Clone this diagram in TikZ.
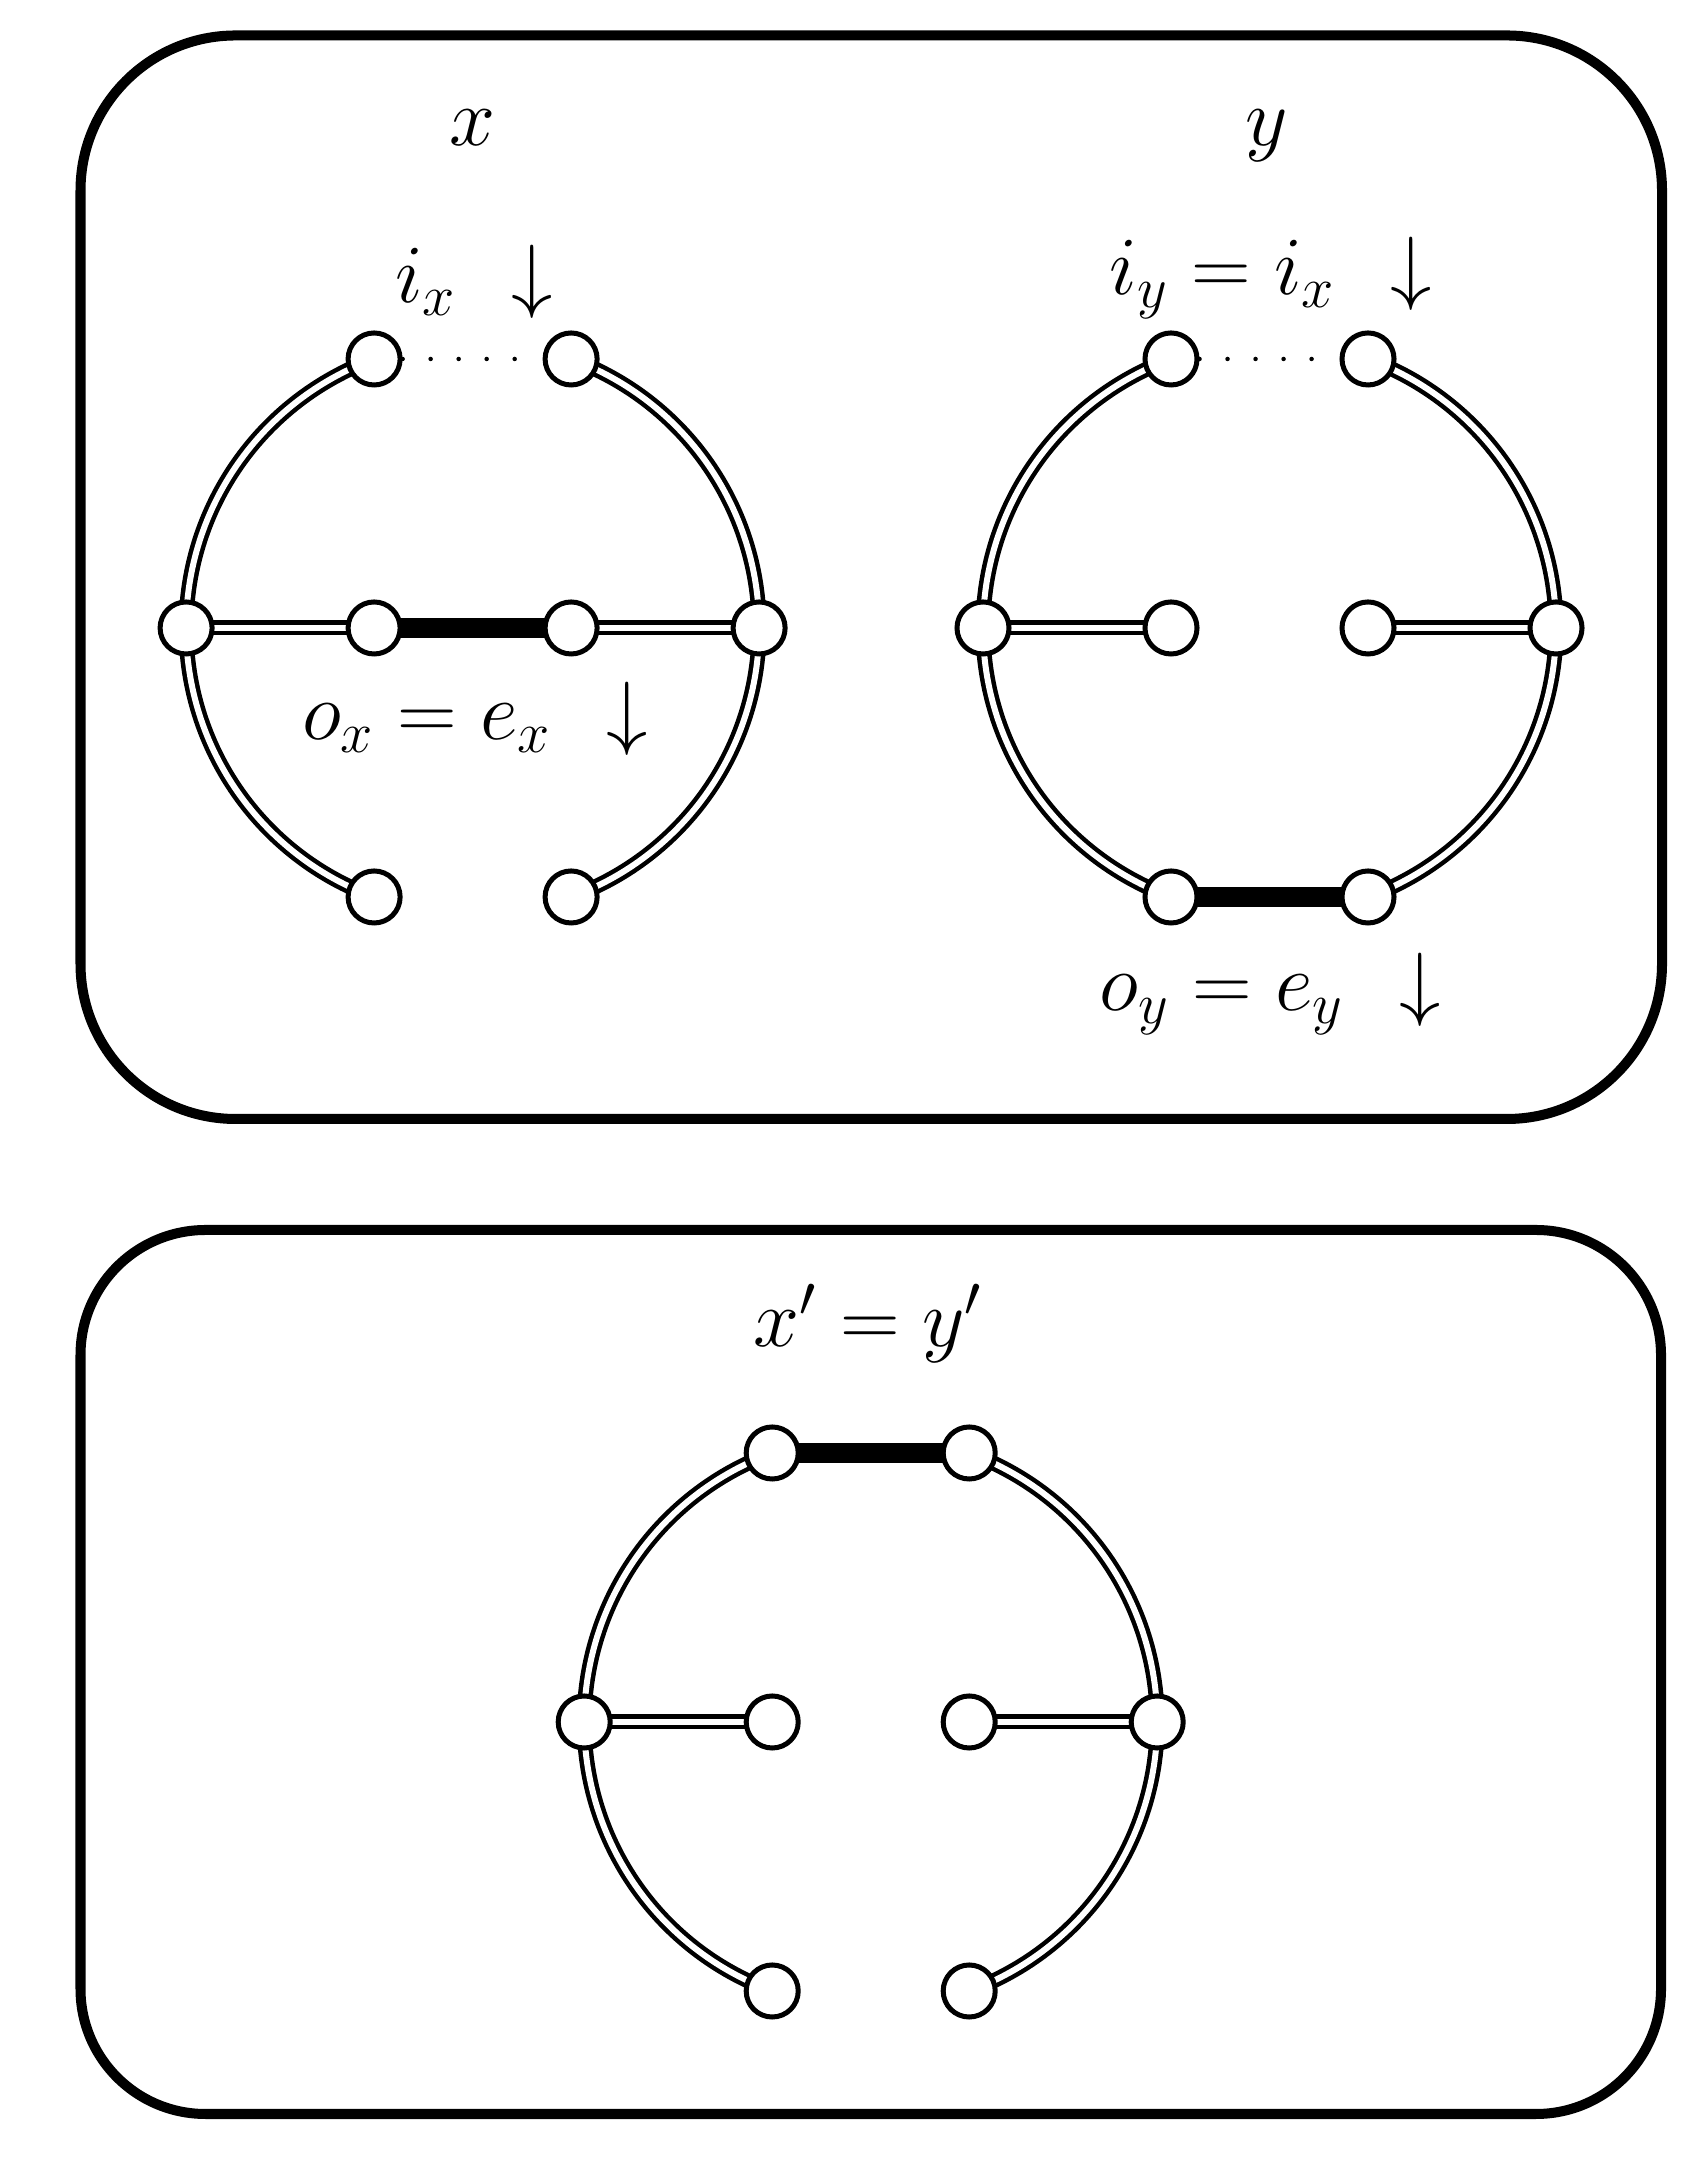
\RequirePackage{fix-cm}
\documentclass[tikz,border=0pt]{standalone}
\usetikzlibrary{backgrounds}
\begin{document}
\begin{tikzpicture}[x=0.01cm,y=0.01cm,
  vtx/.style={circle,draw,fill=white,line width=0.05cm,minimum size=0.52cm,inner sep=0pt},
  dbl/.style={double,double distance=0.06cm,line width=0.045cm},
  thk/.style={line width=0.2cm},
  dotline/.style={line width=0.045cm,line cap=round,dash pattern=on 0pt off 0.28cm},
  boxframe/.style={line width=0.1cm,rounded corners=1.55cm},
  boxframeb/.style={line width=0.1cm,rounded corners=1.25cm},
  lbl/.style={font=\fontsize{23.5}{28}\selectfont,anchor=base,inner sep=0pt},
  arcL/.style={dbl,bend right=35,looseness=0.936},
  arcR/.style={dbl,bend left=35,looseness=0.936}]
\useasboundingbox (0,0) rectangle (1700,2164);

% frames
\draw[boxframe] (80.5,1045) rectangle (1662,2128.5);
\draw[boxframeb] (80.5,50) rectangle (1661,934);

% graph x
\begin{scope}[shift={(472.6,1536)}]
  \node[vtx] (aTL) at (-98.5,269) {};
  \node[vtx] (aTR) at (98.5,269) {};
  \node[vtx] (aL) at (-286.5,0) {};
  \node[vtx] (aIL) at (-98.5,0) {};
  \node[vtx] (aIR) at (98.5,0) {};
  \node[vtx] (aR) at (286.5,0) {};
  \node[vtx] (aBL) at (-98.5,-269) {};
  \node[vtx] (aBR) at (98.5,-269) {};
\end{scope}
% graph y
\begin{scope}[shift={(1269.5,1536)}]
  \node[vtx] (bTL) at (-98.5,269) {};
  \node[vtx] (bTR) at (98.5,269) {};
  \node[vtx] (bL) at (-286.5,0) {};
  \node[vtx] (bIL) at (-98.5,0) {};
  \node[vtx] (bIR) at (98.5,0) {};
  \node[vtx] (bR) at (286.5,0) {};
  \node[vtx] (bBL) at (-98.5,-269) {};
  \node[vtx] (bBR) at (98.5,-269) {};
\end{scope}
% graph x'=y'
\begin{scope}[shift={(870.7,442)}]
  \node[vtx] (cTL) at (-98.5,269) {};
  \node[vtx] (cTR) at (98.5,269) {};
  \node[vtx] (cL) at (-286.5,0) {};
  \node[vtx] (cIL) at (-98.5,0) {};
  \node[vtx] (cIR) at (98.5,0) {};
  \node[vtx] (cR) at (286.5,0) {};
  \node[vtx] (cBL) at (-98.5,-269) {};
  \node[vtx] (cBR) at (98.5,-269) {};
\end{scope}

\begin{scope}[on background layer]
  \foreach \g in {a,b,c}{
    \draw[arcL] (\g TL.center) to (\g L.center);
    \draw[arcL] (\g L.center) to (\g BL.center);
    \draw[arcR] (\g TR.center) to (\g R.center);
    \draw[arcR] (\g R.center) to (\g BR.center);
    \draw[dbl] (\g L.center) -- (\g IL.center);
    \draw[dbl] (\g R.center) -- (\g IR.center);
  }
  \draw[thk] (aIL.center) -- (aIR.center);
  \draw[thk] (bBL.center) -- (bBR.center);
  \draw[thk] (cTL.center) -- (cTR.center);
\end{scope}

\draw[dotline] (aTL) -- (aTR);
\draw[dotline] (bTL) -- (bTR);

% labels
\node[lbl] (xlab) at (472,2018) {$x$};
\node[lbl] (ylab) at (1267,2018) {$y$};
\node[lbl] (ixlab) at (474,1861) {$i_x\hspace{0.32cm}\downarrow$};
\node[lbl] (iylab) at (1271,1869) {$i_y = i_x\hspace{0.32cm}\downarrow$};
\node[lbl] (oxlab) at (475,1424) {$o_x = e_x\hspace{0.32cm}\downarrow$};
\node[lbl] (oylab) at (1270,1153) {$o_y = e_y\hspace{0.32cm}\downarrow$};
\node[lbl] (xylab) at (868,817) {$x' = y'$};
\end{tikzpicture}
\end{document}
